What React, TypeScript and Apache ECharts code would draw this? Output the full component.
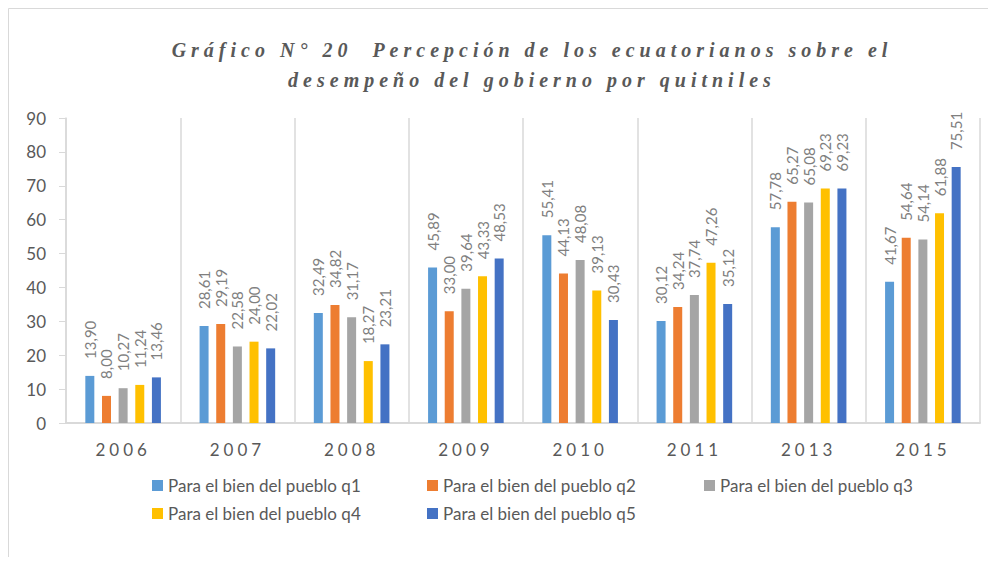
import React, { useEffect, useRef } from "react";
import * as echarts from "echarts";

const categories = ["2006", "2007", "2008", "2009", "2010", "2011", "2013", "2015"];
const seriesNames = [
  "Para el bien del pueblo q1",
  "Para el bien del pueblo q2",
  "Para el bien del pueblo q3",
  "Para el bien del pueblo q4",
  "Para el bien del pueblo q5",
];
const q1 = [13.9, 28.61, 32.49, 45.89, 55.41, 30.12, 57.78, 41.67];
const q2 = [8.0, 29.19, 34.82, 33.0, 44.13, 34.24, 65.27, 54.64];
const q3 = [10.27, 22.58, 31.17, 39.64, 48.08, 37.74, 65.08, 54.14];
const q4 = [11.24, 24.0, 18.27, 43.33, 39.13, 47.26, 69.23, 61.88];
const q5 = [13.46, 22.02, 23.21, 48.53, 30.43, 35.12, 69.23, 75.51];
const seriesValues = [q1, q2, q3, q4, q5];
const colors = ["#5B9BD5", "#ED7D31", "#A5A5A5", "#FFC000", "#4472C4"];
const titleLine1 = "Gráfico N° 20  Percepción de los ecuatorianos sobre el";
const titleLine2 = "desempeño del gobierno por quitniles";

const legendPos = [
  { left: 144, top: 469 },
  { left: 419, top: 469 },
  { left: 696, top: 469 },
  { left: 144, top: 497 },
  { left: 419, top: 497 },
];

export default function App() {
  const ref = useRef<HTMLDivElement>(null);
  useEffect(() => {
    if (!ref.current) return;
    const chart = echarts.init(ref.current, undefined, { renderer: "svg" });
    const fmt = (p: any) => Number(p.value).toFixed(2).replace(".", ",");
    chart.setOption({
      animation: false,
      backgroundColor: "#ffffff",
      graphic: [
        {
          type: "rect",
          shape: { x: 0.5, y: 0.5, width: 1200, height: 1200 },
          style: { fill: "none", stroke: "#d9d9d9", lineWidth: 1 },
          silent: true,
        },
      ],
      title: {
        text: titleLine1 + "\n" + titleLine2,
        left: 519,
        top: 22,
        textAlign: "center",
        textStyle: {
          fontFamily: "Liberation Serif",
          fontStyle: "italic",
          fontWeight: "bold",
          fontSize: 20,
          color: "#595959",
          lineHeight: 30,
        },
      },
      legend: seriesNames.map((n, i) => ({
        data: [n],
        left: legendPos[i].left,
        top: legendPos[i].top,
        padding: 0,
        itemWidth: 11,
        itemHeight: 11,
        icon: "rect",
        textStyle: { fontFamily: "Lato", fontSize: 17, color: "#595959" },
      })),
      grid: { left: 58, right: 8, top: 110, bottom: 134, containLabel: false },
      xAxis: {
        type: "category",
        data: categories,
        axisLine: { show: true, lineStyle: { color: "#d9d9d9", width: 2 } },
        axisTick: { show: false },
        splitLine: { show: true, lineStyle: { color: "#d9d9d9", width: 1.5 } },
        axisLabel: {
          fontFamily: "Lato, sans-serif",
          fontSize: 17,
          color: "#595959",
          margin: 18,
        },
      },
      yAxis: {
        type: "value",
        min: 0,
        max: 90,
        interval: 10,
        axisLine: { show: true, lineStyle: { color: "#d9d9d9", width: 1.5 } },
        axisTick: { show: true, length: 7, lineStyle: { color: "#d9d9d9" } },
        splitLine: { show: false },
        axisLabel: { fontFamily: "Lato", fontSize: 17, color: "#595959", margin: 20 },
      },
      series: seriesNames.map((n, i) => ({
        name: n,
        type: "bar",
        data: seriesValues[i],
        barWidth: 9,
        barGap: "85%",
        itemStyle: { color: colors[i] },
        label: {
          show: true,
          position: "top",
          rotate: 90,
          align: "left",
          verticalAlign: "middle",
          distance: 17,
          formatter: fmt,
          fontFamily: "Lato",
          fontSize: 15,
          color: "#7f7f7f",
        },
      })),
    });
    return () => chart.dispose();
  }, []);
  return (
    <div className="chart-host">
      <style>{`
        .chart-host text[style*="Liberation Serif"] { letter-spacing: 5px; }
        .chart-host text[style*="Lato, sans-serif"] { letter-spacing: 4px; }
      `}</style>
      <div ref={ref} style={{ width: 980, height: 549 }} />
    </div>
  );
}
